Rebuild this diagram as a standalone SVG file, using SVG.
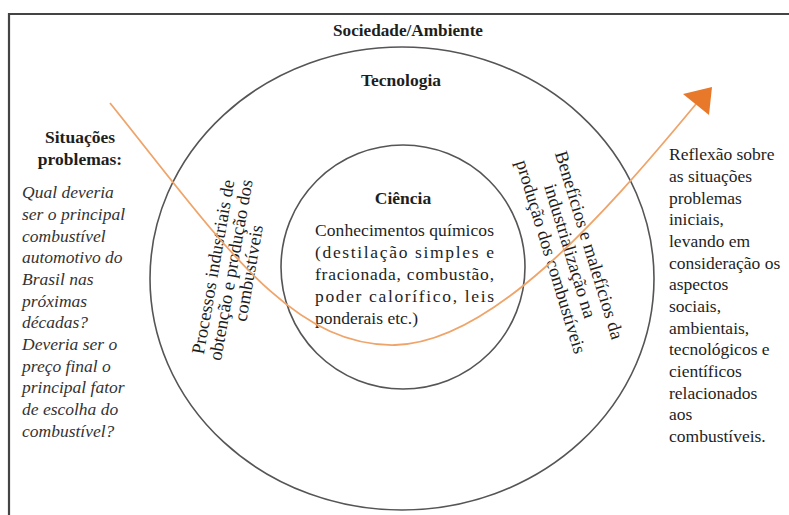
<svg xmlns="http://www.w3.org/2000/svg" width="789" height="515" viewBox="0 0 789 515">
<style>
.t{font-family:"Liberation Serif","DejaVu Serif","Noto Serif",serif;fill:#1e1e1e;font-size:17.5px}
.b{font-weight:bold}
.i{font-style:italic;fill:#333}
.c{text-anchor:middle}
.ring{fill:none;stroke:#555;stroke-width:1.6}
.rot{font-size:18.5px}
</style>
<rect width="789" height="515" fill="#fff"/>
<g id="frame" fill="none" stroke="#444" stroke-width="2.2">
<path d="M9,515 V14 H789"/>
</g>
<g id="sociedade">
<ellipse class="ring" cx="402" cy="278.5" rx="252" ry="231.5"/>
<text class="t b c" x="408" y="36" textLength="150" lengthAdjust="spacingAndGlyphs">Sociedade/Ambiente</text>
</g>
<g id="tecnologia">
<text class="t b c" x="401" y="86">Tecnologia</text>
<g transform="translate(231,270) rotate(-80)">
<text class="t rot c" x="0" y="-12">Processos industriais de</text>
<text class="t rot c" x="0" y="6">obtenção e produção dos</text>
<text class="t rot c" x="0" y="24">combustíveis</text>
</g>
<g transform="translate(570,251) rotate(73)">
<text class="t rot c" x="0" y="-14">Benefícios e malefícios da</text>
<text class="t rot c" x="0" y="6">industrialização na</text>
<text class="t rot c" x="0" y="26">produção dos combustíveis</text>
</g>
</g>
<g id="ciencia">
<circle class="ring" cx="403" cy="267" r="122"/>
<text class="t b c" x="403" y="204">Ciência</text>
<text class="t" x="315" y="236" textLength="179" lengthAdjust="spacing">Conhecimentos químicos</text>
<text class="t" x="315" y="258" textLength="179" lengthAdjust="spacing">(destilação  simples  e</text>
<text class="t" x="315" y="280" textLength="179" lengthAdjust="spacing">fracionada,  combustão,</text>
<text class="t" x="315" y="302" textLength="179" lengthAdjust="spacing">poder  calorífico,  leis</text>
<text class="t" x="315" y="324">ponderais etc.)</text>
</g>
<g id="situacoes">
<text class="t b c" x="80" y="143">Situações</text>
<text class="t b c" x="80" y="165">problemas:</text>
<text class="t i" x="22" y="198">Qual deveria</text>
<text class="t i" x="22" y="220">ser o principal</text>
<text class="t i" x="22" y="241.5">combustível</text>
<text class="t i" x="22" y="263">automotivo do</text>
<text class="t i" x="22" y="285">Brasil nas</text>
<text class="t i" x="22" y="306.5">próximas</text>
<text class="t i" x="22" y="328">décadas?</text>
<text class="t i" x="22" y="350">Deveria ser o</text>
<text class="t i" x="22" y="371.5">preço final o</text>
<text class="t i" x="22" y="393">principal fator</text>
<text class="t i" x="22" y="415">de escolha do</text>
<text class="t i" x="22" y="436.5">combustível?</text>
</g>
<g id="reflexao">
<text class="t" x="669" y="160">Reflexão sobre</text>
<text class="t" x="669" y="182">as situações</text>
<text class="t" x="669" y="203.5">problemas</text>
<text class="t" x="669" y="225">iniciais,</text>
<text class="t" x="669" y="247">levando em</text>
<text class="t" x="669" y="268.5">consideração os</text>
<text class="t" x="669" y="290">aspectos</text>
<text class="t" x="669" y="312">sociais,</text>
<text class="t" x="669" y="333.5">ambientais,</text>
<text class="t" x="669" y="355">tecnológicos e</text>
<text class="t" x="669" y="377">científicos</text>
<text class="t" x="669" y="398.5">relacionados</text>
<text class="t" x="669" y="420">aos</text>
<text class="t" x="669" y="442">combustíveis.</text>
</g>
<g id="connectors">
<path d="M110,103 C220,240 290,347 395,345 C490,343 600,220 696,104" fill="none" stroke="#EFA46A" stroke-width="1.8"/>
<polygon points="712,87 683,94 709,115" fill="#E8792A"/>
</g>
</svg>
